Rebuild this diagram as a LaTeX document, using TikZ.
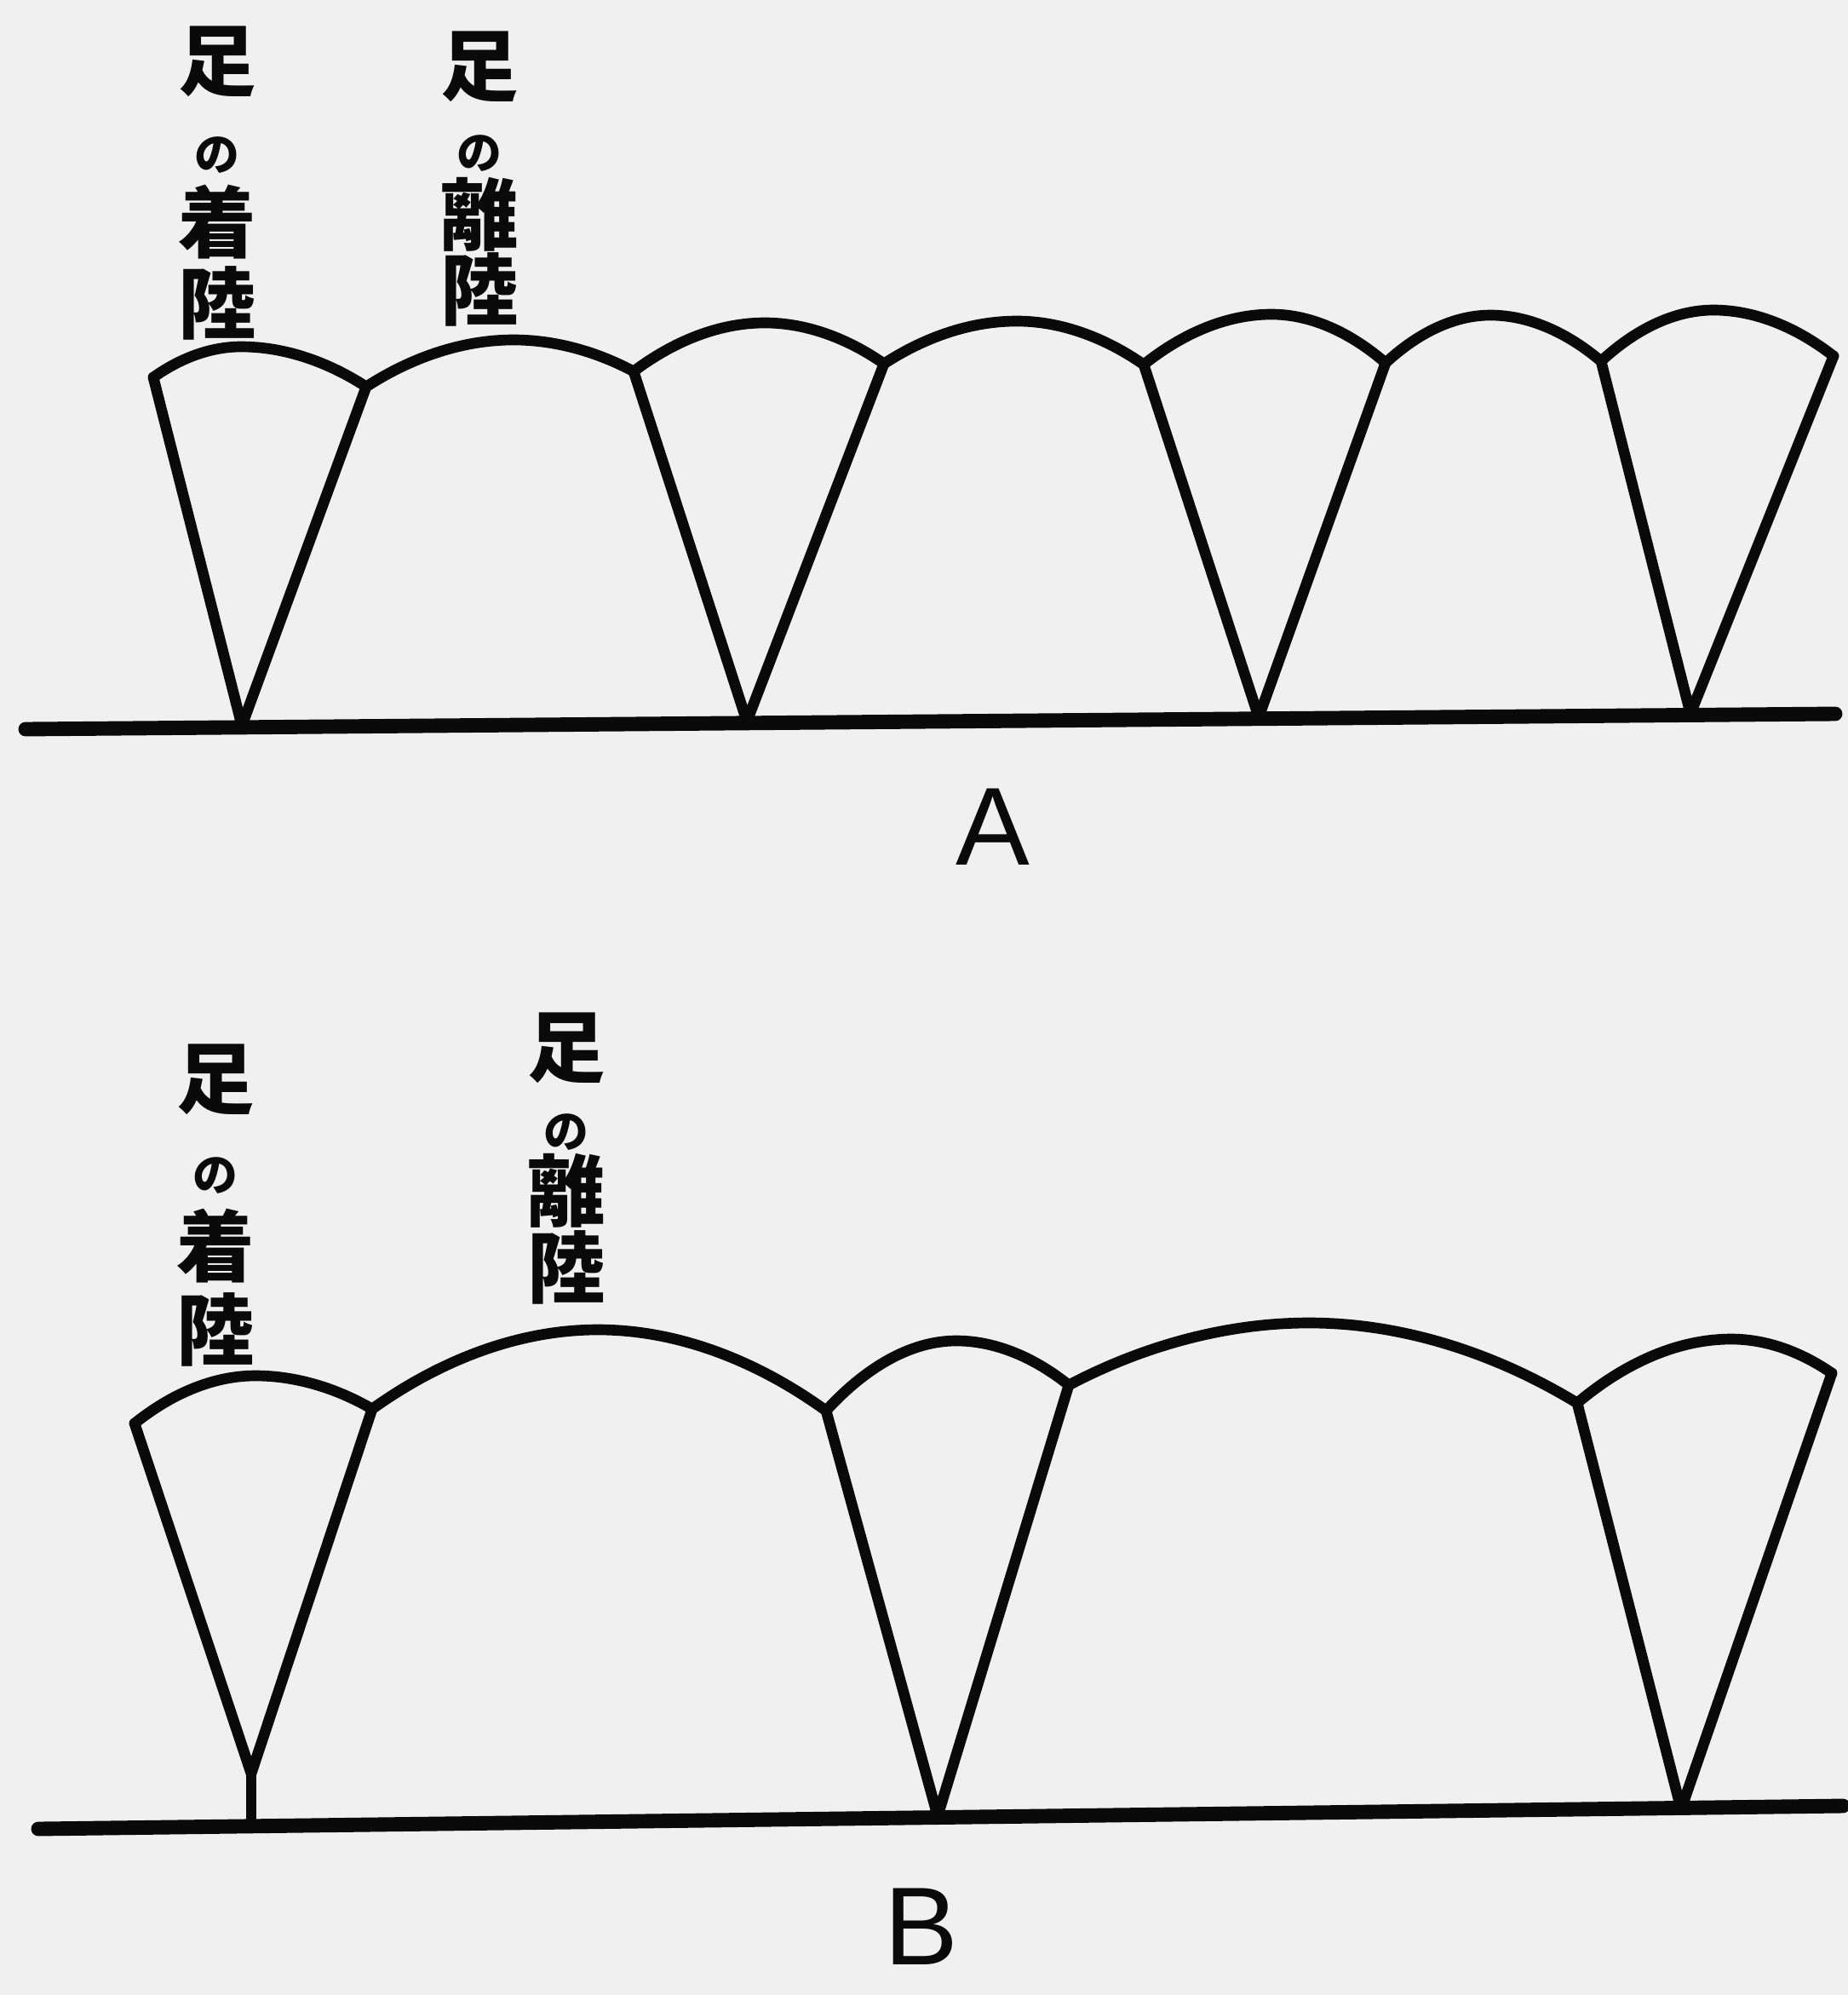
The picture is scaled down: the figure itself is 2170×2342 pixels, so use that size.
\documentclass[tikz,border=0pt]{standalone}
\usepackage{fontspec}
\setsansfont{Liberation Sans}
\newfontfamily\cjk{Noto Sans CJK JP}
\usepackage{xcolor}
\definecolor{paper}{gray}{0.94}
\definecolor{ink}{gray}{0.04}

\begin{document}
\begin{tikzpicture}[x=0.01cm,y=-0.01cm,line cap=round,line join=round,
  gait/.style={ink,line width=3.6pt},
  floor/.style={ink,line width=4.8pt},
  tate/.style={font=\cjk\bfseries\fontsize{26}{#1}\selectfont,align=center,inner sep=0pt,text=ink},
  tag/.style={font=\sffamily\fontsize{37}{37}\selectfont,inner sep=0pt,text=ink}]
\useasboundingbox (0,0) rectangle (2170,2342);
\fill[paper] (0,0) rectangle (2170,2342);
% --- A: points of the track
\coordinate (a0) at (180,443);
\coordinate (a1) at (430,454);
\coordinate (a2) at (744,436);
\coordinate (a3) at (1038,427);
\coordinate (a4) at (1343,428);
\coordinate (a5) at (1627,426);
\coordinate (a6) at (1880,424);
\coordinate (a7) at (2153,418);
\coordinate (pa1) at (283,407);
\coordinate (pa2) at (603,399);
\coordinate (pa3) at (898,379);
\coordinate (pa4) at (1194,377);
\coordinate (pa5) at (1493,369);
\coordinate (pa6) at (1750,370);
\coordinate (pa7) at (2012,364);
\coordinate (fa1) at (284,852);
\coordinate (fa2) at (877,847);
\coordinate (fa3) at (1478,842);
\coordinate (fa4) at (1985,838);
\coordinate (ga0) at (30,856);
\coordinate (ga1) at (2155,838);
\draw[gait] (a0) parabola bend (pa1) (a1) parabola bend (pa2) (a2)
  parabola bend (pa3) (a3) parabola bend (pa4) (a4) parabola bend (pa5) (a5)
  parabola bend (pa6) (a6) parabola bend (pa7) (a7);
\draw[gait] (a0) -- (fa1) -- (a1);
\draw[gait] (a2) -- (fa2) -- (a3);
\draw[gait] (a4) -- (fa3) -- (a5);
\draw[gait] (a6) -- (fa4) -- (a7);
\draw[floor] (ga0) -- (ga1);
\node[tate=27] (lA1) at (255,215) {足\\{\fontsize{15}{27}\selectfont の}\\着\\陸};
\node[tate=25] (lA2) at (563,210) {足\\{\fontsize{15}{25}\selectfont の}\\離\\陸};
\node[tag] (tagA) at (1166,971) {A};
% --- B: points of the track
\coordinate (b0) at (158,1671);
\coordinate (b1) at (437,1654);
\coordinate (b2) at (970,1656);
\coordinate (b3) at (1255,1626);
\coordinate (b4) at (1852,1647);
\coordinate (b5) at (2151,1612);
\coordinate (pb1) at (300,1615);
\coordinate (pb2) at (702,1561);
\coordinate (pb3) at (1123,1574);
\coordinate (pb4) at (1537,1553);
\coordinate (pb5) at (2033,1572);
\coordinate (fb1) at (295,2082);
\coordinate (fs1) at (295,2143);
\coordinate (fb2) at (1101,2132);
\coordinate (fb3) at (1974,2124);
\coordinate (gb0) at (45,2147);
\coordinate (gb1) at (2164,2120);
\draw[gait] (b0) parabola bend (pb1) (b1) parabola bend (pb2) (b2)
  parabola bend (pb3) (b3) parabola bend (pb4) (b4) parabola bend (pb5) (b5);
\draw[gait] (b0) -- (fb1) -- (b1);
\draw[gait] (fb1) -- (fs1);
\draw[gait] (b2) -- (fb2) -- (b3);
\draw[gait] (b4) -- (fb3) -- (b5);
\draw[floor] (gb0) -- (gb1);
\node[tate=28] (lB1) at (253,1415) {足\\{\fontsize{15}{28}\selectfont の}\\着\\陸};
\node[tate=24] (lB2) at (665,1360) {足\\{\fontsize{15}{24}\selectfont の}\\離\\陸};
\node[tag] (tagB) at (1082,2262) {B};
\end{tikzpicture}
\end{document}
